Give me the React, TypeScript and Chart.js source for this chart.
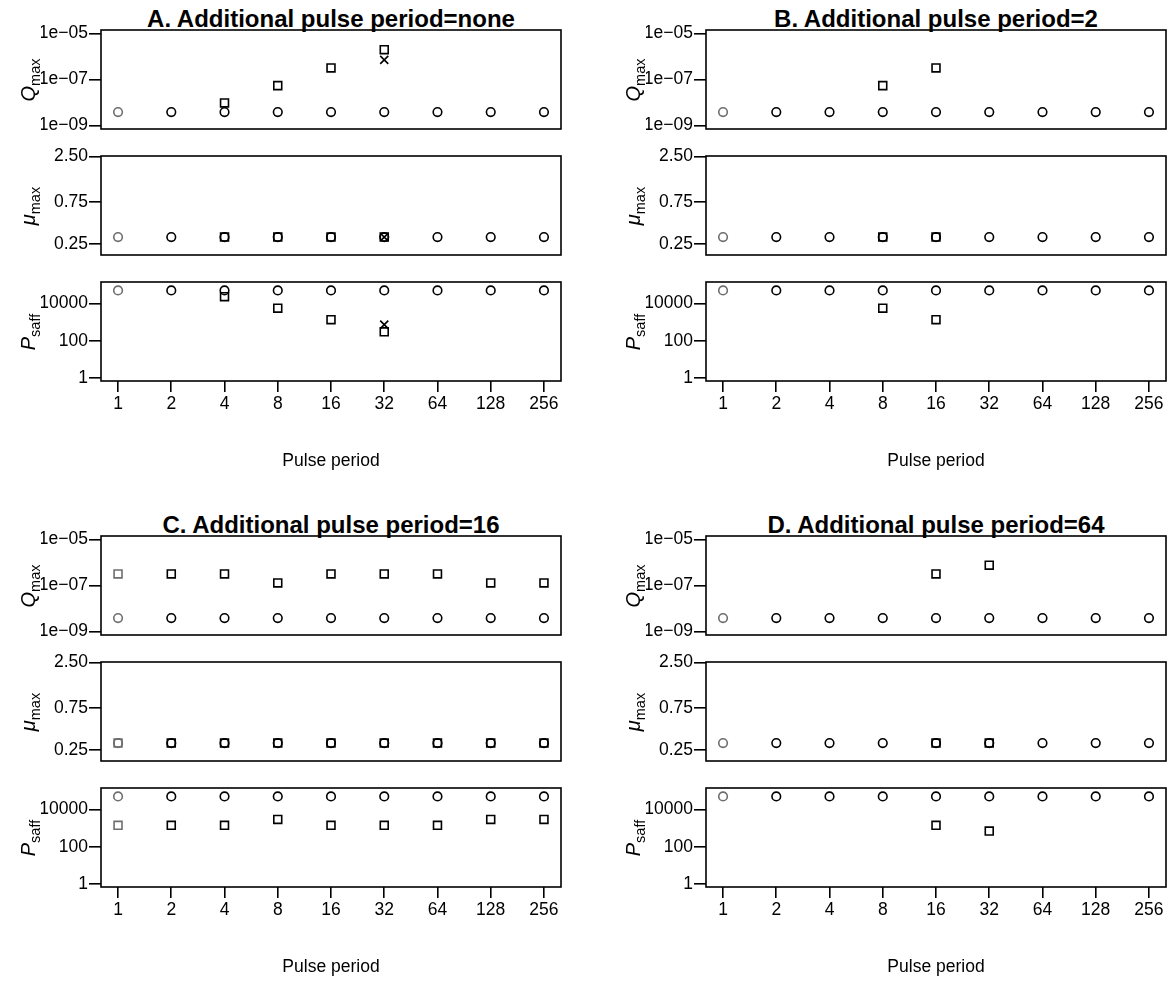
import React, { useEffect, useRef } from 'react';
import { Chart, registerables } from 'chart.js';

Chart.register(...registerables);

const FONT = '"Liberation Sans", Arial, Helvetica, sans-serif';
Chart.defaults.font.family = FONT;
Chart.defaults.color = '#000';

// ---------- data ----------
const periods = [1, 2, 4, 8, 16, 32, 64, 128, 256];
const periodLabels = ['1', '2', '4', '8', '16', '32', '64', '128', '256'];

const qmaxTicks = [1e-9, 1e-7, 1e-5];
const qmaxTickLabels = ['1e\u221209', '1e\u221207', '1e\u221205'];
const muTicks = [0.25, 0.75, 2.5];
const muTickLabels = ['0.25', '0.75', '2.50'];
const psaffTicks = [1, 100, 10000];
const psaffTickLabels = ['1', '100', '10000'];

// circles (no additional pulse response)
const circleQmax = [3.8e-9, 3.8e-9, 3.8e-9, 3.8e-9, 3.8e-9, 3.8e-9, 3.8e-9, 3.8e-9, 3.8e-9];
const circleMu = [0.3, 0.3, 0.3, 0.3, 0.3, 0.3, 0.3, 0.3, 0.3];
const circlePsaff = [50000, 50000, 50000, 50000, 50000, 50000, 50000, 50000, 50000];

// Panel A
const aSquarePeriods = [4, 8, 16, 32];
const aSquareQmax = [9.5e-9, 5.4e-8, 3.2e-7, 2.0e-6];
const aSquareMu = [0.3, 0.3, 0.3, 0.3];
const aSquarePsaff = [23000, 5600, 1350, 300];
const aCrossPeriods = [32];
const aCrossQmax = [7.2e-7];
const aCrossMu = [0.3];
const aCrossPsaff = [730];

// Panel B
const bSquarePeriods = [8, 16];
const bSquareQmax = [5.4e-8, 3.2e-7];
const bSquareMu = [0.3, 0.3];
const bSquarePsaff = [5600, 1350];

// Panel C
const cSquarePeriods = [1, 2, 4, 8, 16, 32, 64, 128, 256];
const cSquareQmax = [3.2e-7, 3.2e-7, 3.2e-7, 1.3e-7, 3.2e-7, 3.2e-7, 3.2e-7, 1.3e-7, 1.3e-7];
const cSquareMu = [0.3, 0.3, 0.3, 0.3, 0.3, 0.3, 0.3, 0.3, 0.3];
const cSquarePsaff = [1400, 1400, 1400, 2900, 1400, 1400, 1400, 2900, 2900];

// Panel D
const dSquarePeriods = [16, 32];
const dSquareQmax = [3.2e-7, 7.7e-7];
const dSquareMu = [0.3, 0.3];
const dSquarePsaff = [1400, 690];

// ---------- layout ----------
const BOX_W = 460;
const BOX_H = 99;
const ROW_PITCH = 126;
const PADL = 60;
const PADT = 14;
const PADR = 10;
const PADB = 14;
const XAXIS_H = 95;
const TICK_FONT = 17.5;

type Series = { xs: number[]; ys: number[] };

const kinds = {
  qmax: { min: Math.pow(10, -9.16), max: Math.pow(10, -4.84), ticks: qmaxTicks, labels: qmaxTickLabels },
  mu: { min: 0.1875, max: 2.52, ticks: muTicks, labels: muTickLabels },
  psaff: { min: Math.pow(10, -0.16), max: Math.pow(10, 5.15), ticks: psaffTicks, labels: psaffTickLabels },
};

const boxPlugin = {
  id: 'box',
  afterDraw(chart: any) {
    const { ctx, chartArea: a } = chart;
    ctx.save();
    ctx.strokeStyle = '#000';
    ctx.lineWidth = 1.6;
    ctx.strokeRect(a.left, a.top, a.right - a.left, a.bottom - a.top);
    ctx.restore();
  },
};

const pointColor = (c: any) => (c.raw && c.raw.x === 1 ? '#6e6e6e' : '#000');

function toPts(s: Series) {
  return s.xs.map((x, i) => ({ x, y: s.ys[i] }));
}

function Sub(props: {
  left: number;
  top: number;
  kind: 'qmax' | 'mu' | 'psaff';
  circles: Series;
  squares?: Series;
  crosses?: Series;
  showX: boolean;
}) {
  const ref = useRef<HTMLCanvasElement>(null);
  const { left, top, kind, circles, squares, crosses, showX } = props;
  const cw = PADL + BOX_W + PADR;
  const ch = PADT + BOX_H + (showX ? XAXIS_H : PADB);

  useEffect(() => {
    const k = kinds[kind];
    const datasets: any[] = [
      {
        data: toPts(circles),
        pointStyle: 'circle',
        pointRadius: 4.3,
        pointBorderWidth: 1.6,
        pointBorderColor: pointColor,
        pointBackgroundColor: 'rgba(0,0,0,0)',
        showLine: false,
      },
    ];
    if (squares) {
      datasets.push({
        data: toPts(squares),
        pointStyle: 'rect',
        pointRadius: 5.6,
        pointBorderWidth: 1.6,
        pointBorderColor: pointColor,
        pointBackgroundColor: 'rgba(0,0,0,0)',
        showLine: false,
      });
    }
    if (crosses) {
      datasets.push({
        data: toPts(crosses),
        pointStyle: 'crossRot',
        pointRadius: 5.7,
        pointBorderWidth: 1.6,
        pointBorderColor: '#000',
        pointBackgroundColor: 'rgba(0,0,0,0)',
        showLine: false,
      });
    }
    const xScale: any = {
      type: 'logarithmic',
      bounds: 'data',
      min: Math.pow(2, -0.32),
      max: Math.pow(2, 8.32),
      display: showX,
      afterBuildTicks: (s: any) => {
        s.ticks = periods.map((v) => ({ value: v }));
      },
      ticks: {
        callback: (_v: any, i: number) => periodLabels[i],
        font: { size: TICK_FONT },
        padding: 2,
        maxRotation: 0,
        minRotation: 0,
        autoSkip: false,
        color: '#000',
      },
      grid: { drawOnChartArea: false, drawTicks: true, tickLength: 11, color: '#000', lineWidth: 1.6 },
      border: { display: false },
      title: {
        display: true,
        text: 'Pulse period',
        font: { size: TICK_FONT },
        color: '#000',
        padding: { top: 0, bottom: 4.5 },
      },
    };
    if (showX) {
      xScale.afterFit = (s: any) => {
        s.height = XAXIS_H;
      };
    }
    const chart = new Chart(ref.current as HTMLCanvasElement, {
      type: 'scatter',
      data: { datasets },
      options: {
        animation: false,
        responsive: false,
        events: [],
        layout: { autoPadding: false, padding: { left: 0, top: PADT, right: PADR, bottom: showX ? 0 : PADB } },
        plugins: { legend: { display: false }, tooltip: { enabled: false }, title: { display: false } },
        scales: {
          x: xScale,
          y: {
            type: 'logarithmic',
            bounds: 'data',
            min: k.min,
            max: k.max,
            afterBuildTicks: (s: any) => {
              s.ticks = k.ticks.map((v) => ({ value: v }));
            },
            afterFit: (s: any) => {
              s.width = PADL;
            },
            ticks: {
              callback: (_v: any, i: number) => k.labels[i],
              font: { size: TICK_FONT },
              padding: 1,
              autoSkip: false,
              color: '#000',
            },
            grid: { drawOnChartArea: false, drawTicks: true, tickLength: 12, color: '#000', lineWidth: 1.6 },
            border: { display: false },
          },
        },
      } as any,
      plugins: [boxPlugin],
    });
    return () => chart.destroy();
  }, []);

  return (
    <canvas
      ref={ref}
      width={cw}
      height={ch}
      style={{ position: 'absolute', left: left - PADL, top: top - PADT, width: cw, height: ch }}
    />
  );
}

function YLabel({ cx, cy, main, sub }: { cx: number; cy: number; main: string; sub: string }) {
  return (
    <div
      style={{
        position: 'absolute',
        left: cx,
        top: cy,
        transform: 'translate(-50%,-50%) rotate(-90deg)',
        fontFamily: FONT,
        fontSize: 20,
        lineHeight: '20px',
        whiteSpace: 'nowrap',
        color: '#000',
      }}
    >
      <i>{main}</i>
      <span style={{ fontSize: 14.5, position: 'relative', top: 5 }}>{sub}</span>
    </div>
  );
}

function Panel(props: {
  title: string;
  left: number;
  top: number;
  squares: { xs: number[]; qmax: number[]; mu: number[]; psaff: number[] };
  crosses?: { xs: number[]; qmax: number[]; mu: number[]; psaff: number[] };
}) {
  const { title, left, top, squares, crosses } = props;
  const tops = [top, top + ROW_PITCH, top + 2 * ROW_PITCH];
  const labelX = left - 72;
  return (
    <>
      <div
        style={{
          position: 'absolute',
          left: left - 40,
          width: BOX_W + 80,
          top: top - 23,
          textAlign: 'center',
          fontFamily: FONT,
          fontWeight: 'bold',
          fontSize: 24,
          lineHeight: '24px',
          whiteSpace: 'nowrap',
          color: '#000',
        }}
      >
        {title}
      </div>
      <Sub
        left={left}
        top={tops[0]}
        kind="qmax"
        circles={{ xs: periods, ys: circleQmax }}
        squares={{ xs: squares.xs, ys: squares.qmax }}
        crosses={crosses ? { xs: crosses.xs, ys: crosses.qmax } : undefined}
        showX={false}
      />
      <Sub
        left={left}
        top={tops[1]}
        kind="mu"
        circles={{ xs: periods, ys: circleMu }}
        squares={{ xs: squares.xs, ys: squares.mu }}
        crosses={crosses ? { xs: crosses.xs, ys: crosses.mu } : undefined}
        showX={false}
      />
      <Sub
        left={left}
        top={tops[2]}
        kind="psaff"
        circles={{ xs: periods, ys: circlePsaff }}
        squares={{ xs: squares.xs, ys: squares.psaff }}
        crosses={crosses ? { xs: crosses.xs, ys: crosses.psaff } : undefined}
        showX={true}
      />
      <YLabel cx={labelX} cy={tops[0] + BOX_H / 2} main="Q" sub="max" />
      <YLabel cx={labelX} cy={tops[1] + BOX_H / 2} main={'\u03bc'} sub="max" />
      <YLabel cx={labelX} cy={tops[2] + BOX_H / 2} main="P" sub="saff" />
    </>
  );
}

export default function App() {
  return (
    <div style={{ position: 'absolute', left: 0, top: 0, width: 1170, height: 981, background: '#fff', overflow: 'hidden' }}>
      <Panel
        title="A. Additional pulse period=none"
        left={101}
        top={30}
        squares={{ xs: aSquarePeriods, qmax: aSquareQmax, mu: aSquareMu, psaff: aSquarePsaff }}
        crosses={{ xs: aCrossPeriods, qmax: aCrossQmax, mu: aCrossMu, psaff: aCrossPsaff }}
      />
      <Panel
        title="B. Additional pulse period=2"
        left={706}
        top={30}
        squares={{ xs: bSquarePeriods, qmax: bSquareQmax, mu: bSquareMu, psaff: bSquarePsaff }}
      />
      <Panel
        title="C. Additional pulse period=16"
        left={101}
        top={536}
        squares={{ xs: cSquarePeriods, qmax: cSquareQmax, mu: cSquareMu, psaff: cSquarePsaff }}
      />
      <Panel
        title="D. Additional pulse period=64"
        left={706}
        top={536}
        squares={{ xs: dSquarePeriods, qmax: dSquareQmax, mu: dSquareMu, psaff: dSquarePsaff }}
      />
    </div>
  );
}
